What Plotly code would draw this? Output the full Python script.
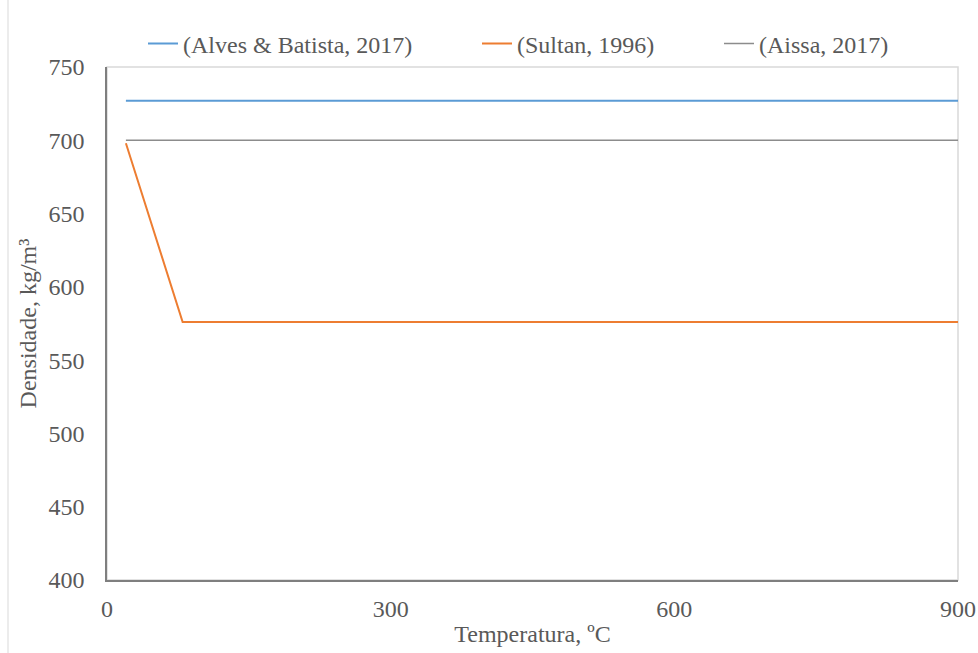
import plotly.graph_objects as go

# Data
alves_x = [20, 900]
alves_y = [727, 727]
sultan_x = [20, 80, 900]
sultan_y = [698, 576, 576]
aissa_x = [20, 900]
aissa_y = [700, 700]

x_ticks = [0, 300, 600, 900]
y_ticks = [400, 450, 500, 550, 600, 650, 700, 750]

FONT = "Liberation Serif"
TXT = "#595959"
FS = 24
W, H = 978, 653

fig = go.Figure()
fig.add_trace(go.Scatter(x=alves_x, y=alves_y, mode="lines", name="(Alves & Batista, 2017)",
                         line=dict(color="#5B9BD5", width=2), legend="legend"))
fig.add_trace(go.Scatter(x=sultan_x, y=sultan_y, mode="lines", name="(Sultan, 1996)",
                         line=dict(color="#ED7D31", width=2), legend="legend2"))
fig.add_trace(go.Scatter(x=aissa_x, y=aissa_y, mode="lines", name="(Aissa, 2017)",
                         line=dict(color="#8C8C8C", width=1.5), legend="legend3"))

leg_common = dict(orientation="h", xref="container", yref="container", xanchor="left",
                  yanchor="middle", font=dict(family=FONT, size=FS, color=TXT),
                  bgcolor="rgba(0,0,0,0)", itemwidth=30)
y_leg = 1 - 44 / H
fig.update_layout(
    legend=dict(x=143 / W, y=y_leg, **leg_common),
    legend2=dict(x=477 / W, y=y_leg, **leg_common),
    legend3=dict(x=719 / W, y=y_leg, **leg_common),
)

fig.update_layout(
    width=W, height=H,
    margin=dict(l=107, r=20, t=67, b=73, autoexpand=False),
    paper_bgcolor="white", plot_bgcolor="white",
    font=dict(family=FONT, size=FS, color=TXT),
    showlegend=True,
    xaxis=dict(range=[0, 900], tickvals=x_ticks, ticktext=[str(v) for v in x_ticks],
               showgrid=False, zeroline=False, showline=True, linecolor="#7F7F7F", linewidth=1.5,
               ticks="outside", ticklen=6, tickcolor="rgba(0,0,0,0)",
               title=dict(text="Temperatura, ºC", standoff=5, font=dict(size=FS, color=TXT))),
    yaxis=dict(range=[400, 750], tickvals=y_ticks, ticktext=[str(v) for v in y_ticks],
               showgrid=False, zeroline=False, showline=True, linecolor="#7F7F7F", linewidth=1.5,
               ticks="outside", ticklen=16, tickcolor="rgba(0,0,0,0)",
               title=dict(text="Densidade, kg/m³", standoff=5, font=dict(size=FS, color=TXT))),
    shapes=[
        dict(type="rect", xref="paper", yref="paper", x0=0, x1=1, y0=0, y1=1,
             line=dict(color="#D9D9D9", width=1.5), layer="below"),
        dict(type="line", xref="paper", yref="paper", x0=(8 - 107) / 851, x1=(8 - 107) / 851,
             y0=-1, y1=2, line=dict(color="#D9D9D9", width=1)),
    ],
)

fig.write_html("out.html", config={"displayModeBar": False},
               post_script="document.body.style.margin='0';document.body.style.overflow='hidden';")
